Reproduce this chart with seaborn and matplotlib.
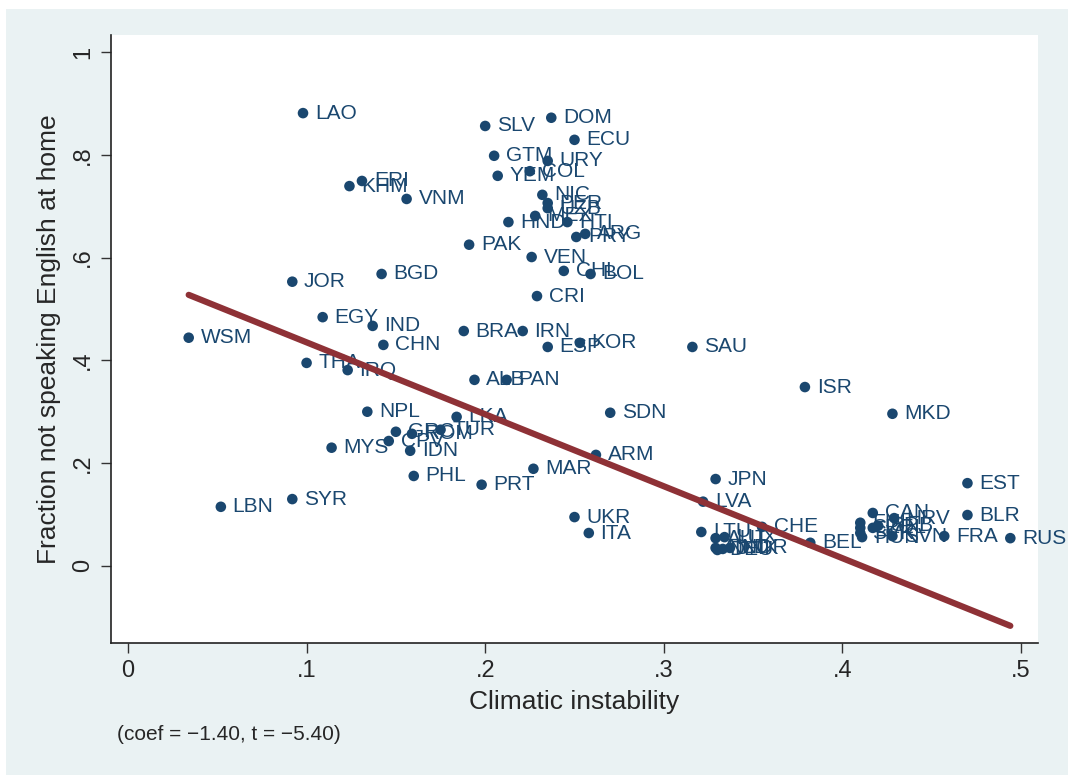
import numpy as np
import pandas as pd
import matplotlib
matplotlib.use('Agg')
import matplotlib.pyplot as plt
import seaborn as sns
from matplotlib.patches import Rectangle

# country codes, climatic instability and share not speaking English at home
codes = ['LAO', 'SLV', 'DOM', 'ECU', 'GTM', 'URY', 'COL', 'YEM', 'ERI', 'KHM',
         'VNM', 'NIC', 'PER', 'UZB', 'MEX', 'HND', 'HTI', 'PRY', 'ARG', 'PAK',
         'VEN', 'CHL', 'BOL', 'BGD', 'JOR', 'CRI', 'EGY', 'IND', 'CHN', 'WSM',
         'BRA', 'IRN', 'ESP', 'KOR', 'SAU', 'THA', 'IRQ', 'ALB', 'PAN', 'ISR',
         'NPL', 'LKA', 'SDN', 'MKD', 'GRC', 'ROM', 'TUR', 'CPV', 'MYS', 'IDN',
         'ARM', 'PHL', 'PRT', 'MAR', 'JPN', 'LVA', 'EST', 'SYR', 'LBN', 'UKR',
         'ITA', 'BLR', 'CAN', 'HRV', 'FIN', 'CZE', 'SVK', 'HUN', 'POL', 'SRB',
         'SVN', 'FRA', 'RUS', 'BEL', 'CHE', 'LTU', 'AUT', 'LUX', 'NLD', 'DNK',
         'NOR', 'DEU']
instability = [0.098, 0.200, 0.237, 0.250, 0.205, 0.235, 0.225, 0.207, 0.131, 0.124,
               0.156, 0.232, 0.235, 0.235, 0.228, 0.213, 0.246, 0.251, 0.256, 0.191,
               0.226, 0.244, 0.259, 0.142, 0.092, 0.229, 0.109, 0.137, 0.143, 0.034,
               0.188, 0.221, 0.235, 0.253, 0.316, 0.100, 0.123, 0.194, 0.212, 0.379,
               0.134, 0.184, 0.270, 0.428, 0.150, 0.159, 0.175, 0.146, 0.114, 0.158,
               0.262, 0.160, 0.198, 0.227, 0.329, 0.322, 0.470, 0.092, 0.052, 0.250,
               0.258, 0.470, 0.417, 0.429, 0.410, 0.410, 0.410, 0.411, 0.417, 0.420,
               0.428, 0.457, 0.494, 0.382, 0.355, 0.321, 0.329, 0.334, 0.329, 0.333,
               0.337, 0.330]
not_english = [0.881, 0.856, 0.872, 0.829, 0.798, 0.788, 0.768, 0.759, 0.749, 0.739,
               0.714, 0.722, 0.706, 0.696, 0.681, 0.669, 0.669, 0.640, 0.646, 0.625,
               0.601, 0.574, 0.568, 0.568, 0.553, 0.525, 0.484, 0.467, 0.430, 0.444,
               0.457, 0.457, 0.426, 0.434, 0.426, 0.395, 0.381, 0.362, 0.362, 0.348,
               0.300, 0.290, 0.298, 0.296, 0.261, 0.257, 0.265, 0.243, 0.230, 0.224,
               0.216, 0.175, 0.158, 0.189, 0.169, 0.125, 0.161, 0.130, 0.115, 0.095,
               0.064, 0.099, 0.103, 0.093, 0.084, 0.074, 0.064, 0.056, 0.074, 0.078,
               0.058, 0.058, 0.054, 0.045, 0.076, 0.066, 0.054, 0.056, 0.035, 0.033,
               0.035, 0.031]

# fitted line
coef = -1.40
intercept = 0.575

x_ticks = [0, 0.1, 0.2, 0.3, 0.4, 0.5]
x_ticklabels = ['0', '.1', '.2', '.3', '.4', '.5']
y_ticks = [0, 0.2, 0.4, 0.6, 0.8, 1.0]
y_ticklabels = ['0', '.2', '.4', '.6', '.8', '1']

df = pd.DataFrame({'code': codes, 'instability': instability, 'not_english': not_english})

navy = '#1A476F'
maroon = '#8E3136'
bg = '#EAF2F3'

sns.set_style('ticks')
plt.rcParams['font.family'] = ['Liberation Sans', 'DejaVu Sans']

fig = plt.figure(figsize=(10.68, 7.75), dpi=100)
fig.patch.set_facecolor('white')
fig.patches.append(Rectangle((6 / 1068, 0), 1 - 6 / 1068, 1 - 9 / 775,
                             transform=fig.transFigure, facecolor=bg,
                             edgecolor='none', zorder=-1))
ax = fig.add_axes([111 / 1068, (775 - 643) / 775, (1038 - 111) / 1068, (643 - 35) / 775])
ax.set_facecolor('white')

sns.scatterplot(data=df, x='instability', y='not_english', color=navy, s=58,
                edgecolor='none', ax=ax, zorder=3)
for _, row in df.iterrows():
    ax.annotate(row['code'], (row['instability'], row['not_english']),
                xytext=(8.5, 0), textcoords='offset points', va='center', ha='left',
                fontsize=15, color=navy, zorder=3)

fit = pd.DataFrame({'instability': [df['instability'].min(), df['instability'].max()]})
fit['fit'] = intercept + coef * fit['instability']
sns.lineplot(data=fit, x='instability', y='fit', color=maroon, linewidth=4.5,
             ax=ax, zorder=4, solid_capstyle='round')

ax.set_xlim(-0.0095, 0.5095)
ax.set_ylim(-0.150, 1.033)
ax.set_xticks(x_ticks)
ax.set_xticklabels(x_ticklabels)
ax.set_yticks(y_ticks)
ax.set_yticklabels(y_ticklabels, rotation=90, va='center')
ax.tick_params(axis='both', labelsize=17, length=7, width=1, color='#333333', pad=5)
ax.set_xlabel('Climatic instability', fontsize=19, labelpad=6)
ax.set_ylabel('Fraction not speaking English at home', fontsize=19, labelpad=8)
sns.despine(ax=ax)
for side in ['left', 'bottom']:
    ax.spines[side].set_linewidth(1.2)
    ax.spines[side].set_color('#222222')

fig.text(117 / 1068, 1 - 735 / 775, '(coef = \u22121.40, t = \u22125.40)',
         fontsize=15, va='center', ha='left')

fig.savefig('out.png', dpi=100, facecolor=fig.get_facecolor())
